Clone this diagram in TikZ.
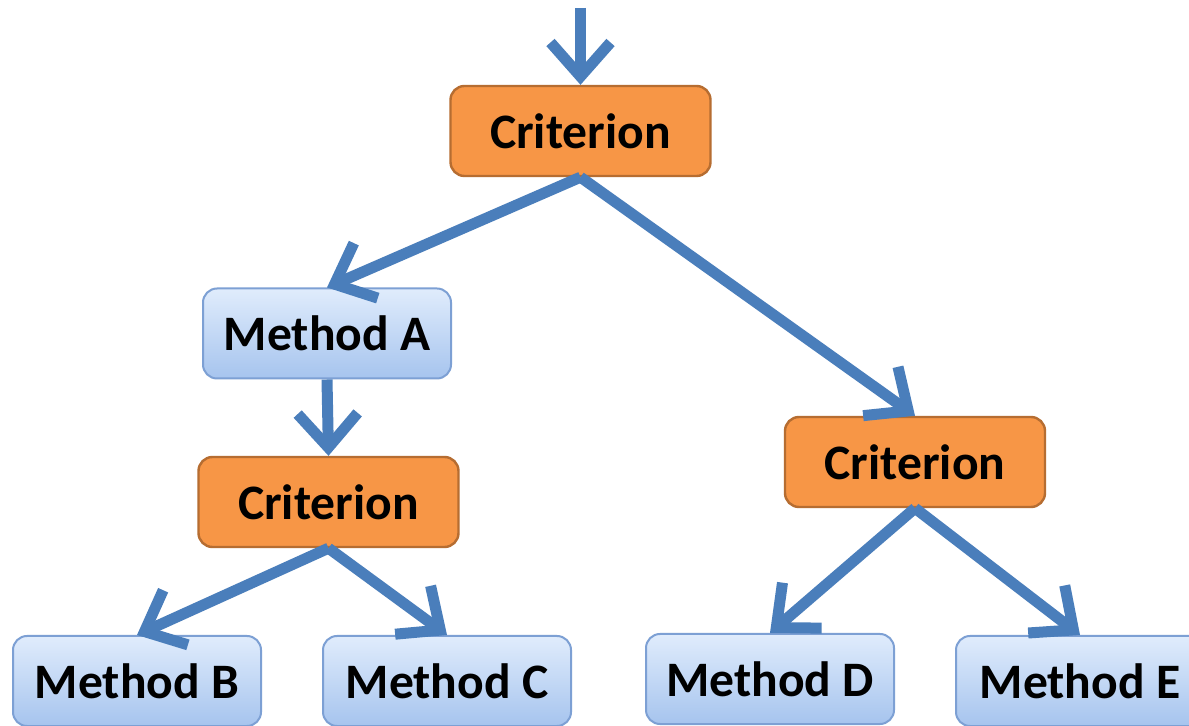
\documentclass[tikz,border=0pt]{standalone}
\usepackage{fontspec}
\setmainfont{Carlito}
\usetikzlibrary{arrows.meta}
\definecolor{arrowblue}{RGB}{74,126,187}
\definecolor{critfill}{RGB}{247,150,70}
\definecolor{critdraw}{RGB}{182,109,49}
\definecolor{methtop}{RGB}{224,236,252}
\definecolor{methbot}{RGB}{166,196,238}
\definecolor{methdraw}{RGB}{125,160,212}
\tikzset{
  crit/.style={draw=critdraw, fill=critfill, line width=1.2pt, rounded corners=7pt,
    minimum width=130pt, minimum height=45pt, font=\fontsize{24.8}{29}\selectfont\bfseries},
  meth/.style={draw=methdraw, top color=methtop, bottom color=methbot, line width=1pt, rounded corners=7pt,
    minimum width=124pt, minimum height=45pt, font=\fontsize{24.8}{29}\selectfont\bfseries},
  conn/.style={draw=arrowblue, line width=5.5pt, -{Straight Barb[length=17pt,width=30pt,line width=5.5pt]}}
}
\begin{document}
\begin{tikzpicture}[x=0.5pt,y=-0.5pt]
\clip (0,0) rectangle (1189,726);
\fill[white] (0,0) rectangle (1189,726);
\node[crit] (c1) at (580.5,131) {Criterion};
\node[meth] (ma) at (327,333.5) {Method A};
\node[crit] (c2) at (328.5,502) {Criterion};
\node[crit] (c3) at (915,462) {Criterion};
\node[meth] (mb) at (137,681) {Method B};
\node[meth] (mc) at (447,681) {Method C};
\node[meth] (md) at (770,679) {Method D};
\node[meth] (me) at (1080,681) {Method E};
\coordinate (in) at (580.5,8);
\draw[conn] (in) -- (c1.north);
\draw[conn] (c1.south) -- (ma.north);
\draw[conn] (c1.south) -- (c3.north);
\draw[conn] (ma.south) -- (c2.north);
\draw[conn] (c2.south) -- (mb.north);
\draw[conn] (c2.south) -- (mc.north);
\draw[conn] (c3.south) -- (md.north);
\draw[conn] (c3.south) -- (me.north);
\end{tikzpicture}
\end{document}
